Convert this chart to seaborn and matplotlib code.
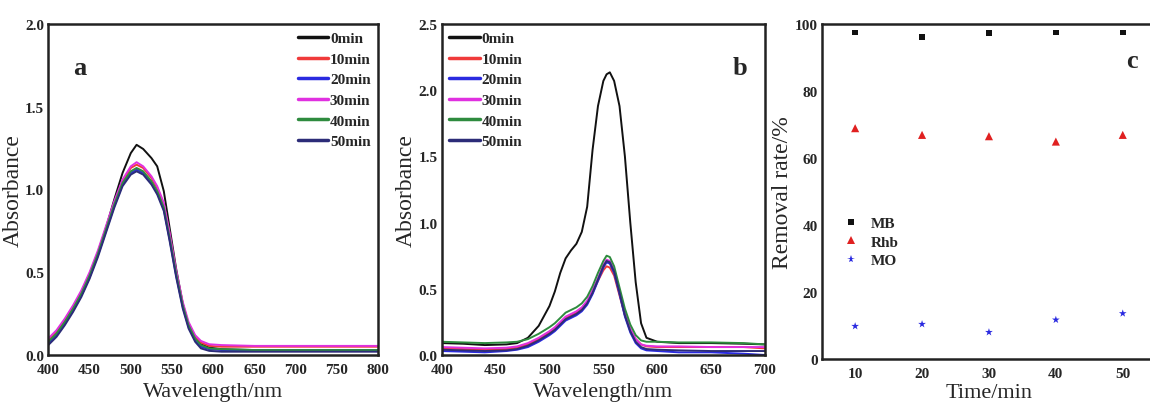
import matplotlib
matplotlib.use("Agg")
import matplotlib.pyplot as plt
from matplotlib.ticker import MultipleLocator, FormatStrFormatter
import seaborn as sns
import pandas as pd

sns.set_theme(style="white")
plt.rcParams['font.family'] = ['Liberation Serif', 'DejaVu Serif']

# ---------------- data ----------------
labels_time = ["0min", "10min", "20min", "30min", "40min", "50min"]
colors_time = ["#111111", "#f03a3a", "#2a2ae0", "#e030e0", "#2e8b3e", "#2c2c78"]

a_wl = [400, 410, 420, 430, 440, 450, 460, 470, 480, 490, 500, 507, 515, 525, 532,
        540, 547, 555, 563, 570, 578, 585, 595, 610, 650, 700, 750, 800]
a_0 = [0.07, 0.12, 0.19, 0.27, 0.36, 0.47, 0.61, 0.77, 0.94, 1.10, 1.22, 1.27, 1.245, 1.19, 1.14,
       0.99, 0.77, 0.52, 0.31, 0.18, 0.10, 0.065, 0.045, 0.035, 0.03, 0.03, 0.03, 0.03]
a_10 = [0.09, 0.14, 0.21, 0.29, 0.38, 0.49, 0.62, 0.77, 0.92, 1.05, 1.13, 1.15, 1.13, 1.07, 1.01,
        0.91, 0.73, 0.50, 0.31, 0.19, 0.11, 0.075, 0.055, 0.05, 0.05, 0.05, 0.05, 0.05]
a_20 = [0.07, 0.12, 0.19, 0.27, 0.36, 0.47, 0.60, 0.75, 0.90, 1.03, 1.10, 1.12, 1.10, 1.04, 0.98,
        0.88, 0.70, 0.48, 0.29, 0.17, 0.09, 0.05, 0.035, 0.03, 0.03, 0.03, 0.03, 0.03]
a_30 = [0.10, 0.15, 0.22, 0.30, 0.39, 0.50, 0.63, 0.78, 0.93, 1.06, 1.14, 1.165, 1.14, 1.08, 1.02,
        0.92, 0.74, 0.51, 0.32, 0.20, 0.12, 0.085, 0.065, 0.06, 0.055, 0.055, 0.055, 0.055]
a_40 = [0.08, 0.13, 0.20, 0.28, 0.37, 0.48, 0.61, 0.76, 0.91, 1.04, 1.11, 1.13, 1.11, 1.05, 0.99,
        0.89, 0.71, 0.49, 0.30, 0.18, 0.10, 0.06, 0.04, 0.035, 0.03, 0.03, 0.03, 0.03]
a_50 = [0.06, 0.11, 0.18, 0.26, 0.35, 0.46, 0.59, 0.74, 0.89, 1.02, 1.09, 1.11, 1.09, 1.03, 0.97,
        0.87, 0.69, 0.47, 0.28, 0.16, 0.08, 0.04, 0.025, 0.02, 0.02, 0.02, 0.02, 0.02]

b_wl = [400, 420, 440, 460, 470, 480, 490, 500, 505, 510, 515, 520, 525, 530, 535, 540,
        545, 550, 553, 556, 560, 565, 570, 575, 580, 585, 590, 600, 620, 650, 680, 700]
b_0 = [0.09, 0.085, 0.075, 0.08, 0.09, 0.13, 0.22, 0.37, 0.48, 0.62, 0.73, 0.79, 0.84, 0.93, 1.12, 1.55,
       1.88, 2.07, 2.12, 2.135, 2.07, 1.88, 1.50, 1.00, 0.55, 0.24, 0.13, 0.10, 0.09, 0.09, 0.085, 0.08]
b_10 = [0.05, 0.045, 0.04, 0.045, 0.055, 0.08, 0.12, 0.17, 0.20, 0.24, 0.28, 0.30, 0.32, 0.35, 0.40, 0.47,
        0.56, 0.64, 0.67, 0.66, 0.60, 0.45, 0.30, 0.19, 0.12, 0.08, 0.065, 0.06, 0.06, 0.06, 0.06, 0.05]
b_20 = [0.03, 0.025, 0.02, 0.03, 0.04, 0.06, 0.10, 0.15, 0.18, 0.22, 0.26, 0.28, 0.30, 0.33, 0.38, 0.46,
        0.56, 0.66, 0.70, 0.69, 0.62, 0.46, 0.29, 0.17, 0.09, 0.05, 0.035, 0.03, 0.02, 0.02, 0.01, 0.0]
b_30 = [0.06, 0.055, 0.05, 0.055, 0.065, 0.09, 0.13, 0.18, 0.21, 0.25, 0.29, 0.31, 0.33, 0.36, 0.41, 0.49,
        0.58, 0.68, 0.72, 0.71, 0.64, 0.48, 0.32, 0.20, 0.12, 0.08, 0.07, 0.065, 0.065, 0.06, 0.06, 0.06]
b_40 = [0.10, 0.095, 0.09, 0.095, 0.10, 0.12, 0.16, 0.21, 0.24, 0.28, 0.32, 0.34, 0.36, 0.39, 0.44, 0.52,
        0.62, 0.71, 0.75, 0.74, 0.67, 0.51, 0.35, 0.23, 0.15, 0.11, 0.10, 0.10, 0.095, 0.095, 0.09, 0.08]
b_50 = [0.04, 0.035, 0.03, 0.035, 0.045, 0.07, 0.11, 0.16, 0.19, 0.23, 0.27, 0.29, 0.31, 0.34, 0.39, 0.47,
        0.57, 0.67, 0.71, 0.70, 0.63, 0.47, 0.30, 0.18, 0.10, 0.06, 0.045, 0.04, 0.035, 0.03, 0.03, 0.03]

c_time = [10, 20, 30, 40, 50]
c_MB = [97.5, 96.2, 97.3, 97.5, 97.5]
c_Rhb = [68.9, 66.9, 66.5, 64.9, 66.9]
c_MO = [9.8, 10.4, 8.0, 11.7, 13.6]
c_names = ["MB", "Rhb", "MO"]

# ---------------- figure ----------------
W, H = 1150, 410
fig = plt.figure(figsize=(W / 100, H / 100), dpi=100)


def box(l, t, r, b):
    return [l / W, (H - b) / H, (r - l) / W, (b - t) / H]


ax_a = fig.add_axes(box(48.3, 25, 378.3, 356))
ax_b = fig.add_axes(box(441.7, 25, 765, 356))
ax_c = fig.add_axes(box(821.7, 25, 1156.2, 360))


def style_axes(ax):
    for s in ax.spines.values():
        s.set_linewidth(1.8)
        s.set_color('#222222')
    ax.tick_params(which='both', direction='in', color='#222222', top=False, right=False)
    ax.tick_params(which='major', length=4, width=1.2)
    ax.tick_params(axis='x', which='major', pad=6)
    ax.tick_params(axis='y', which='major', pad=3)
    ax.tick_params(which='minor', length=2.5, width=1.0)
    for lab in ax.get_xticklabels() + ax.get_yticklabels():
        lab.set_fontfamily('Liberation Serif')
        lab.set_fontweight('bold')
        lab.set_fontsize(11)


def spectra(ax, wl, series):
    for vals, lab, col in zip(series, labels_time, colors_time):
        df = pd.DataFrame({"wl": wl, "A": vals})
        sns.lineplot(data=df, x="wl", y="A", ax=ax, color=col, lw=1.4, label=lab, legend=False)


spectra(ax_a, a_wl, [a_0, a_10, a_20, a_30, a_40, a_50])
ax_a.set_xlim(400, 800)
ax_a.set_ylim(0, 2.0)
ax_a.xaxis.set_major_locator(MultipleLocator(50))
ax_a.xaxis.set_minor_locator(MultipleLocator(25))
ax_a.yaxis.set_major_locator(MultipleLocator(0.5))
ax_a.yaxis.set_minor_locator(MultipleLocator(0.25))
ax_a.yaxis.set_major_formatter(FormatStrFormatter('%.1f'))

spectra(ax_b, b_wl, [b_0, b_10, b_20, b_30, b_40, b_50])
ax_b.set_xlim(400, 700)
ax_b.set_ylim(0, 2.5)
ax_b.xaxis.set_major_locator(MultipleLocator(50))
ax_b.xaxis.set_minor_locator(MultipleLocator(25))
ax_b.yaxis.set_major_locator(MultipleLocator(0.5))
ax_b.yaxis.set_minor_locator(MultipleLocator(0.25))
ax_b.yaxis.set_major_formatter(FormatStrFormatter('%.1f'))

for ax in (ax_a, ax_b):
    ax.set_xlabel("Wavelength/nm", fontsize=16, labelpad=4)
    ax.set_ylabel("Absorbance", fontsize=17, labelpad=1)

leg_kw = dict(prop=dict(family='Liberation Serif', weight='bold', size=11),
              frameon=False, handlelength=2.0, handletextpad=0.1, labelspacing=0.45)
la = ax_a.legend(loc='upper right', borderaxespad=0.1, **leg_kw)
lb = ax_b.legend(loc='upper left', borderaxespad=0.1, **leg_kw)
for leg in (la, lb):
    for h in leg.get_lines():
        h.set_linewidth(2.5)

ax_a.text(0.075, 0.85, "a", transform=ax_a.transAxes, fontsize=19, fontweight='bold')
ax_b.text(0.90, 0.85, "b", transform=ax_b.transAxes, fontsize=19, fontweight='bold')

# panel c
dfc = pd.DataFrame({
    "time": c_time * 3,
    "rate": c_MB + c_Rhb + c_MO,
    "dye": [c_names[0]] * 5 + [c_names[1]] * 5 + [c_names[2]] * 5,
})
sns.scatterplot(data=dfc, x="time", y="rate", hue="dye", style="dye", size="dye", ax=ax_c,
                palette={"MB": "#111111", "Rhb": "#e02020", "MO": "#2a2ae0"},
                markers={"MB": "s", "Rhb": "^", "MO": "*"},
                sizes={"MB": 16, "Rhb": 34, "MO": 34},
                edgecolor='none', linewidth=0, legend=True)
ax_c.set_xlim(5, 55)
ax_c.set_ylim(0, 100)
ax_c.xaxis.set_major_locator(MultipleLocator(10))
ax_c.xaxis.set_minor_locator(MultipleLocator(5))
ax_c.yaxis.set_major_locator(MultipleLocator(20))
ax_c.yaxis.set_minor_locator(MultipleLocator(10))
ax_c.set_xlabel("Time/min", fontsize=16, labelpad=2)
ax_c.set_ylabel("Removal rate/%", fontsize=17, labelpad=1)
lc = ax_c.legend(loc='center left', bbox_to_anchor=(0.0, 0.35), frameon=False,
                 prop=dict(family='Liberation Serif', weight='bold', size=11),
                 handletextpad=0.3, labelspacing=0.3, markerscale=1.0)
ax_c.text(1131.7 / W, (H - 61.7) / H, "c", transform=fig.transFigure, fontsize=19,
          fontweight='bold', ha='center', va='center')

for ax in (ax_a, ax_b, ax_c):
    style_axes(ax)

fig.savefig("out.png", dpi=100)
